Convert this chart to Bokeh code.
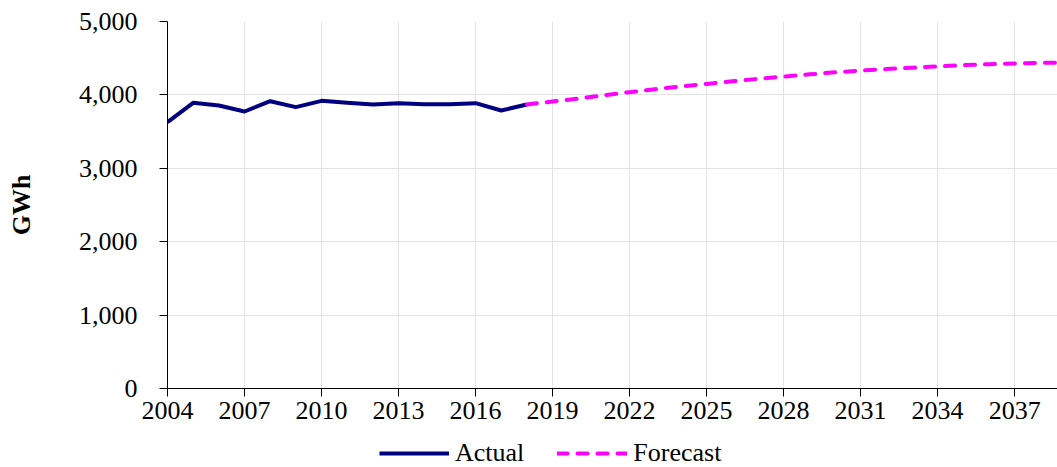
from bokeh.plotting import figure
from bokeh.layouts import column
from bokeh.models import FixedTicker, NumeralTickFormatter, Legend, LegendItem, Range1d
from bokeh.embed import file_html
from bokeh.resources import INLINE

actual_years = list(range(2004, 2019))
actual_gwh = [3628, 3892, 3856, 3774, 3914, 3833, 3919, 3892, 3869, 3887,
              3873, 3873, 3887, 3787, 3870]
forecast_years = list(range(2018, 2040))
forecast_gwh = [3870, 3910, 3950, 3995, 4037, 4078, 4115, 4150, 4185, 4218,
                4250, 4280, 4307, 4332, 4352, 4370, 4387, 4405, 4418, 4428,
                4436, 4442]
x_ticks = list(range(2004, 2038, 3))
y_ticks = [0, 1000, 2000, 3000, 4000, 5000]
series_names = ["Actual", "Forecast"]

FONT = "Liberation Serif"
NAVY = "#000080"
MAGENTA = "#FF00FF"
DASH = "10 10"

p = figure(width=1057, height=436, output_backend="svg", toolbar_location=None,
           x_range=Range1d(2004, 2038.67), y_range=Range1d(0, 5000),
           min_border_left=167, min_border_right=0, min_border_top=21,
           min_border_bottom=48)
p.outline_line_color = None
p.background_fill_color = "white"
p.border_fill_color = "white"

p.line(actual_years, actual_gwh, line_color=NAVY, line_width=4, line_join="round")
p.line(forecast_years, forecast_gwh, line_color=MAGENTA, line_width=4,
       line_dash=DASH, line_cap="round")

p.xaxis.ticker = FixedTicker(ticks=x_ticks)
p.yaxis.ticker = FixedTicker(ticks=y_ticks)
p.yaxis.formatter = NumeralTickFormatter(format="0,0")
for ax in (p.xaxis, p.yaxis):
    ax.major_label_text_font = FONT
    ax.major_label_text_font_size = "26px"
    ax.major_label_text_color = "black"
    ax.axis_line_color = "black"
    ax.axis_line_width = 1
    ax.major_tick_line_color = "black"
    ax.major_tick_out = 8
    ax.major_tick_in = 0
    ax.minor_tick_line_color = None
p.xaxis.major_label_standoff = 5
p.yaxis.major_label_standoff = 22
p.yaxis.axis_label = "GWh"
p.yaxis.axis_label_text_font = FONT
p.yaxis.axis_label_text_font_size = "26px"
p.yaxis.axis_label_text_font_style = "bold"
p.yaxis.axis_label_text_color = "black"
p.yaxis.axis_label_standoff = 40

p.xgrid.ticker = FixedTicker(ticks=x_ticks)
p.ygrid.ticker = FixedTicker(ticks=y_ticks)
p.grid.grid_line_color = "#e3e3e3"
p.grid.grid_line_width = 1

# legend strip below the chart (frame aligned with the chart frame)
p2 = figure(width=1057, height=31, output_backend="svg", toolbar_location=None,
            x_range=Range1d(0, 1), y_range=Range1d(0, 1),
            x_axis_type=None, y_axis_type=None,
            min_border_left=167, min_border_right=0, min_border_top=0,
            min_border_bottom=0)
p2.outline_line_color = None
p2.grid.visible = False
p2.background_fill_color = "white"
p2.border_fill_color = "white"
la = p2.line([-2, -1], [-2, -2], line_color=NAVY, line_width=4)
lf = p2.line([-2, -1], [-2, -2], line_color=MAGENTA, line_width=4,
             line_dash=DASH, line_cap="round")
legend = Legend(items=[LegendItem(label=series_names[0], renderers=[la]),
                       LegendItem(label=series_names[1], renderers=[lf])],
                orientation="horizontal", location=(212, -1),
                padding=0, margin=0, spacing=33, glyph_width=70,
                glyph_height=26, label_height=26, label_standoff=6,
                border_line_color=None, background_fill_alpha=0,
                label_text_font=FONT, label_text_font_size="26px",
                label_text_color="black")
p2.add_layout(legend, "center")

layout = column(p, p2, spacing=0)
open("out.html", "w").write(file_html(layout, INLINE))
